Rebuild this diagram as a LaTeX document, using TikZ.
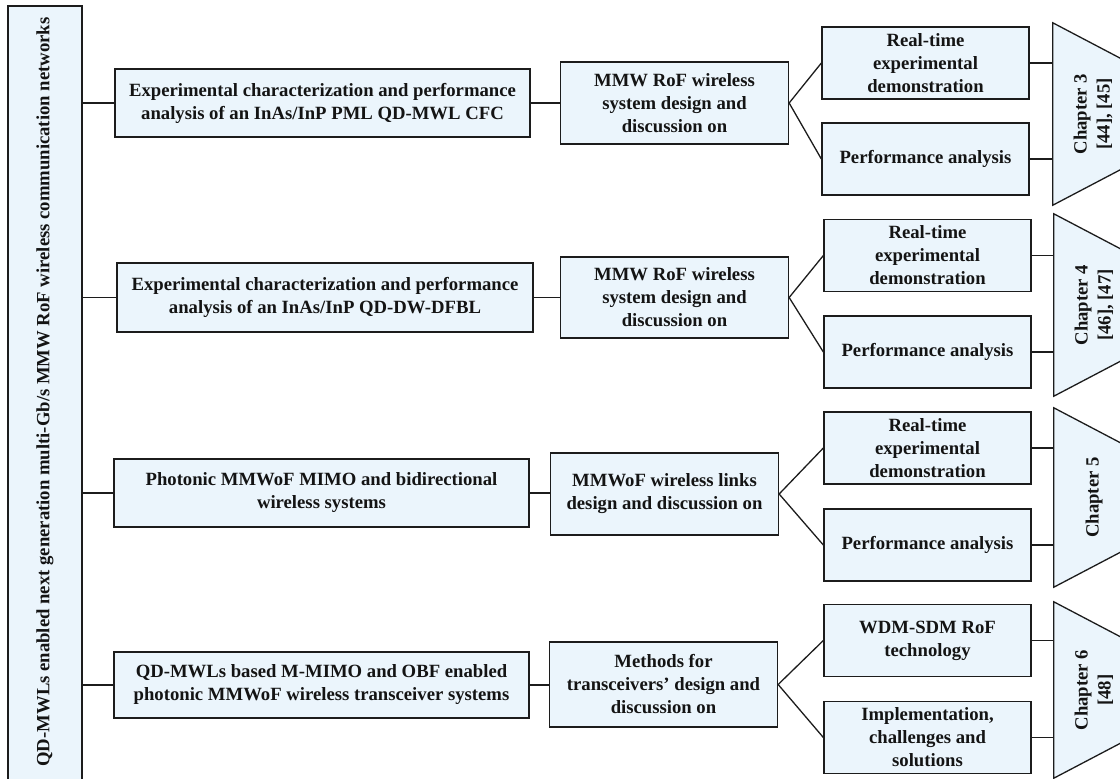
\documentclass[tikz,border=0pt]{standalone}
\usepackage{fontspec}
\setmainfont{Liberation Serif}
\usetikzlibrary{calc}
\definecolor{boxfill}{RGB}{235,245,252}
\definecolor{edge}{RGB}{28,28,28}
\definecolor{ink}{RGB}{20,20,20}
\begin{document}
\begin{tikzpicture}[x=1pt,y=-1pt,
  every node/.style={font=\fontsize{18.7}{23}\selectfont\bfseries, text=ink, align=center, inner sep=0pt},
  box/.style={draw=edge, line width=1.3pt, fill=boxfill},
  lvlone/.style={box, minimum width=415pt, minimum height=68pt},
  mid/.style={box, minimum width=228pt, minimum height=82pt},
  leaf/.style={box, minimum width=207pt, minimum height=72pt},
  chap/.style={draw=none, minimum width=80pt, minimum height=182pt},
  trap/.style={draw=edge, line width=1.3pt, fill=boxfill},
  link/.style={draw=edge, line width=1.3pt},
]
\useasboundingbox (0,0) rectangle (1120,779);
\clip (0,0) rectangle (1120,779);

% root bar
\node[box, minimum width=74pt, minimum height=778pt] (root) at (45,395) {};
\node[rotate=90] (roottext) at (45,392) {QD-MWLs enabled next generation multi-Gb/s MMW RoF wireless communication networks};

% row 1
\node[lvlone] (L1) at (322.5,103) {Experimental characterization and performance\\analysis of an InAs/InP PML QD-MWL CFC};
\node[mid] (M1) at (674.5,103) {MMW RoF wireless\\system design and\\discussion on};
\node[leaf] (A1) at (925.5,63) {Real-time\\experimental\\demonstration};
\node[leaf] (B1) at (925.5,159) {Performance analysis};
\node[chap] (T1) at (1093,114) {};

% row 2
\node[lvlone, minimum width=416pt, minimum height=69pt] (L2) at (325,297.5) {Experimental characterization and performance\\analysis of an InAs/InP QD-DW-DFBL};
\node[mid, minimum height=81pt] (M2) at (674.5,297.5) {MMW RoF wireless\\system design and\\discussion on};
\node[leaf] (A2) at (927.5,255.5) {Real-time\\experimental\\demonstration};
\node[leaf] (B2) at (927.5,352) {Performance analysis};
\node[chap] (T2) at (1094,305) {};

% row 3
\node[lvlone] (L3) at (321.5,493) {Photonic MMWoF MIMO and bidirectional\\wireless systems};
\node[mid] (M3) at (664.5,494) {MMWoF wireless links\\design and discussion on};
\node[leaf] (A3) at (927.5,448) {Real-time\\experimental\\demonstration};
\node[leaf] (B3) at (927.5,545) {Performance analysis};
\node[chap, minimum height=179pt] (T3) at (1094,497.5) {};

% row 4
\node[lvlone, minimum height=66pt] (L4) at (321.5,685) {QD-MWLs based M-MIMO and OBF enabled\\photonic MMWoF wireless transceiver systems};
\node[mid, minimum height=85pt] (M4) at (663.5,684.5) {Methods for\\transceivers’ design and\\discussion on};
\node[leaf] (A4) at (927.5,640.5) {WDM-SDM RoF\\technology};
\node[leaf] (B4) at (927.5,737.5) {Implementation,\\challenges and\\solutions};
\node[chap, minimum height=176pt] (T4) at (1094,690) {};

% trapezoids and chapter labels
\foreach \t in {T1,T2,T3,T4}{
  \draw[trap] (\t.north west) -- ($(\t.north west)+(80,42)$) -- ($(\t.south west)+(80,-42)$) -- (\t.south west) -- cycle;
}
\node[rotate=90] (C1) at (T1) {Chapter 3\\{[44], [45]}};
\node[rotate=90] (C2) at (T2) {Chapter 4\\{[46], [47]}};
\node[rotate=90] (C3) at (T3) {Chapter 5};
\node[rotate=90] (C4) at (T4) {Chapter 6\\{[48]}};

% connectors
\foreach \r in {1,2,3,4}{
  \draw[link] (L\r.west -| root.east) -- (L\r.west);
  \draw[link] (L\r.east) -- (L\r.east -| M\r.west);
  \draw[link] (A\r.west) -- (M\r.east) -- (B\r.west);
  \draw[link] (A\r.east) -- (A\r.east -| T\r.west);
  \draw[link] (B\r.east) -- (B\r.east -| T\r.west);
}
\end{tikzpicture}
\end{document}
